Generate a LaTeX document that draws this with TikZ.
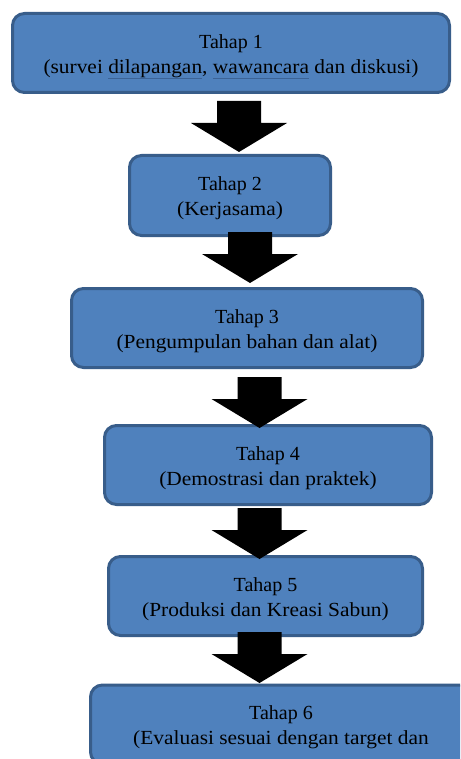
\documentclass[tikz,border=0pt]{standalone}
\usepackage{fontspec}
\setmainfont{Liberation Serif}
\newfontfamily\widefont{Liberation Serif}[FakeStretch=1.07]
\definecolor{boxfill}{HTML}{4F81BD}
\definecolor{boxline}{HTML}{385D8A}
\definecolor{ulc}{HTML}{3C6396}
\newcommand\squl[1]{\sbox0{#1}\rlap{\smash{\color{ulc}\rule[-5.9pt]{\wd0}{0.8pt}}}\usebox0}
\newcommand\topstrut{\rule{0pt}{20pt}}
\newcommand\sub[1]{{\widefont #1}}
\tikzset{
  stagebox/.style={draw=boxline, fill=boxfill, line width=3pt, rounded corners=12pt,
    inner sep=0pt, align=center, text=black, font=\fontsize{20}{25}\selectfont},
  blockarrow/.pic={\fill[black] (-22,0) -- (22,0) -- (22,22) -- (48,22) -- (0,51) -- (-48,22) -- (-22,22) -- cycle;}
}
\begin{document}
\begin{tikzpicture}[x=1pt,y=-1pt]
\clip (0,0) rectangle (460,759);
\fill[white] (0,0) rectangle (460,759);
\node[stagebox, minimum width=437pt, minimum height=79pt] (b1) at (231,53)
  {\topstrut Tahap 1\\ \sub{(survei \squl{dilapangan}, \squl{wawancara} dan diskusi)}};
\node[stagebox, minimum width=201pt, minimum height=80pt] (b2) at (230,195.5)
  {\topstrut Tahap 2\\ \sub{(Kerjasama)}};
\node[stagebox, minimum width=351pt, minimum height=79pt] (b3) at (247,328)
  {\topstrut Tahap 3\\ \sub{(Pengumpulan bahan dan alat)}};
\node[stagebox, minimum width=327pt, minimum height=79pt] (b4) at (268,465)
  {\topstrut Tahap 4\\ \sub{(Demostrasi dan praktek)}};
\node[stagebox, minimum width=314pt, minimum height=79pt] (b5) at (265.5,596)
  {\topstrut Tahap 5\\ \sub{(Produksi dan Kreasi Sabun)}};
\node[stagebox, minimum width=381pt, minimum height=79pt] (b6) at (281,724.5)
  {\topstrut Tahap 6\\ \sub{(Evaluasi sesuai dengan target dan}};
\pic at (239,101) {blockarrow};
\pic at (250,232) {blockarrow};
\pic at (259.5,377) {blockarrow};
\pic at (259.5,508) {blockarrow};
\pic at (259.5,632) {blockarrow};
\end{tikzpicture}
\end{document}
